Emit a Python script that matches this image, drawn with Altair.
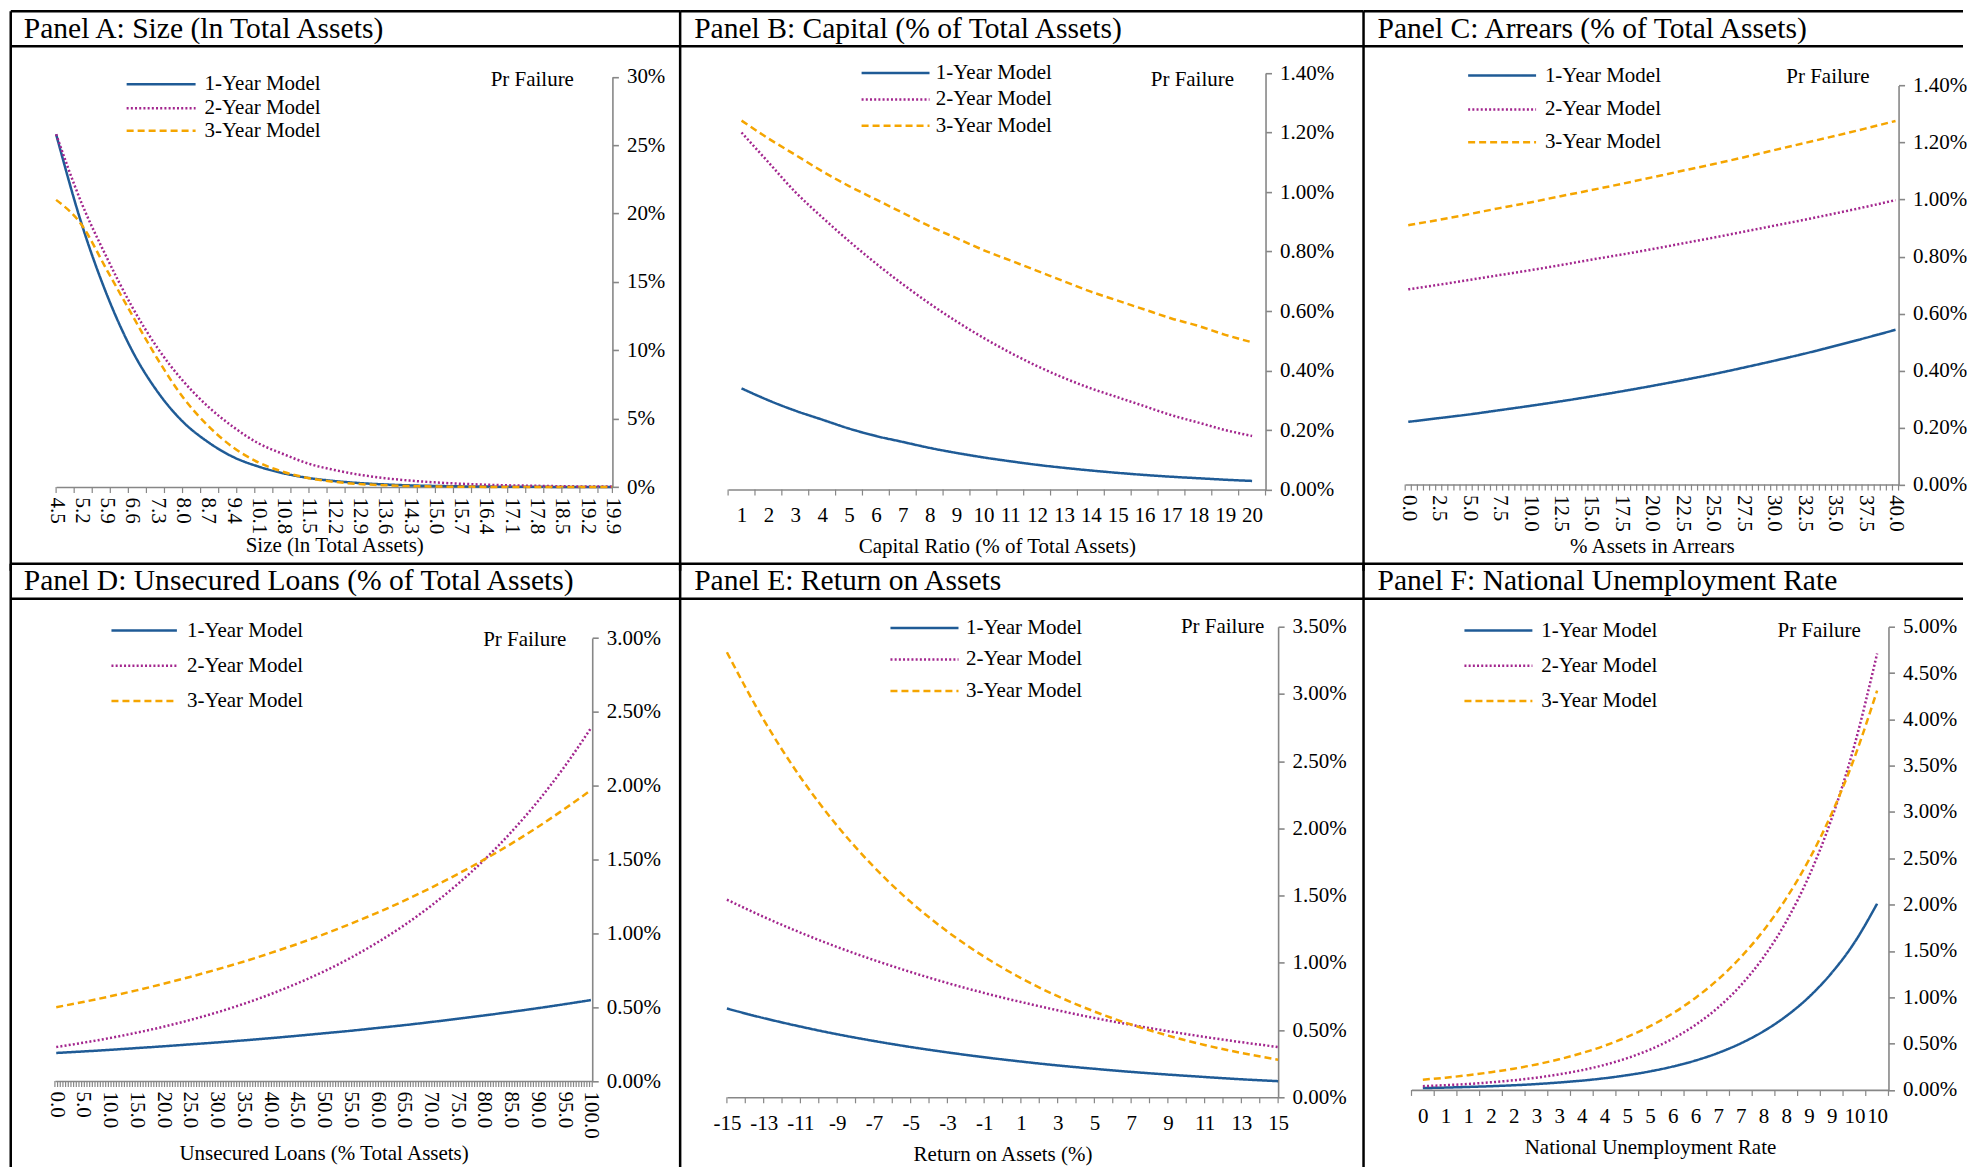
import altair as alt
import pandas as pd

FONT = "Liberation Serif"
GRAY = "#878787"
SERIES = ["1-Year Model", "2-Year Model", "3-Year Model"]
SERIES_COLORS = ["#1F5B96", "#A3268E", "#F5A500"]
SERIES_DASH = [[1, 0], [2, 2.2], [7, 4]]

# ---------------- Panel A: Size (ln Total Assets) ----------------
a_x = [4.5, 5.2, 5.9, 6.6, 7.3, 8.0, 8.7, 9.4, 10.1, 10.8, 11.5, 12.2, 12.9, 13.6,
       14.3, 15.0, 15.7, 16.4, 17.1, 17.8, 18.5, 19.2, 19.9]
a_y1 = [25.8, 19.3, 14.1, 10.0, 7.0, 4.8, 3.3, 2.2, 1.5, 1.0, 0.66, 0.44, 0.29, 0.19,
        0.12, 0.08, 0.05, 0.035, 0.02, 0.015, 0.01, 0.006, 0.004]
a_y2 = [25.8, 20.8, 16.8, 13.2, 10.2, 7.8, 5.9, 4.4, 3.2, 2.4, 1.7, 1.25, 0.9, 0.65,
        0.47, 0.34, 0.24, 0.17, 0.12, 0.09, 0.06, 0.04, 0.03]
a_y3 = [21.0, 19.2, 15.9, 12.6, 9.4, 6.6, 4.5, 2.9, 1.8, 1.1, 0.65, 0.38, 0.22, 0.13,
        0.07, 0.04, 0.02, 0.012, 0.007, 0.004, 0.002, 0.001, 0.001]
a_xlabel_vals = a_x
a_xlabels = ["4.5", "5.2", "5.9", "6.6", "7.3", "8.0", "8.7", "9.4", "10.1", "10.8",
             "11.5", "12.2", "12.9", "13.6", "14.3", "15.0", "15.7", "16.4", "17.1",
             "17.8", "18.5", "19.2", "19.9"]
a_xticks = [4.5, 5.0, 5.5, 6.0, 6.5, 7.0, 7.5, 8.0, 8.5, 9.0, 9.5, 10.0, 10.5, 11.0,
            11.5, 12.0, 12.5, 13.0, 13.5, 14.0, 14.5, 15.0, 15.5, 16.0, 16.5, 17.0,
            17.5, 18.0, 18.5, 19.0, 19.5, 19.9]
a_yvals = [0, 5, 10, 15, 20, 25, 30]
a_ylabels = ["0%", "5%", "10%", "15%", "20%", "25%", "30%"]

# ---------------- Panel B: Capital ----------------
b_x = list(range(1, 21))
b_y1 = [0.34, 0.30, 0.265, 0.235, 0.205, 0.18, 0.16, 0.14, 0.123, 0.108, 0.095, 0.083,
        0.073, 0.064, 0.056, 0.049, 0.043, 0.038, 0.033, 0.029]
b_y2 = [1.20, 1.10, 1.00, 0.915, 0.835, 0.76, 0.69, 0.625, 0.565, 0.51, 0.46, 0.415,
        0.375, 0.34, 0.31, 0.28, 0.25, 0.225, 0.20, 0.18]
b_y3 = [1.24, 1.18, 1.125, 1.07, 1.02, 0.975, 0.93, 0.885, 0.845, 0.805, 0.77, 0.735,
        0.70, 0.665, 0.635, 0.605, 0.575, 0.55, 0.52, 0.495]
b_xlabel_vals = b_x
b_xlabels = [str(v) for v in b_x]
b_xticks = [v - 0.5 for v in range(1, 22)]
b_yvals = [0, 0.2, 0.4, 0.6, 0.8, 1.0, 1.2, 1.4]
b_ylabels = ["0.00%", "0.20%", "0.40%", "0.60%", "0.80%", "1.00%", "1.20%", "1.40%"]

# ---------------- Panel C: Arrears ----------------
c_x = [0, 2.5, 5, 7.5, 10, 12.5, 15, 17.5, 20, 22.5, 25, 27.5, 30, 32.5, 35, 37.5, 40]
c_y1 = [0.22, 0.233, 0.246, 0.261, 0.276, 0.292, 0.309, 0.327, 0.346, 0.366, 0.387,
        0.410, 0.434, 0.459, 0.486, 0.514, 0.543]
c_y2 = [0.685, 0.701, 0.718, 0.735, 0.752, 0.770, 0.789, 0.807, 0.826, 0.846, 0.866,
        0.887, 0.908, 0.929, 0.951, 0.974, 0.998]
c_y3 = [0.91, 0.929, 0.949, 0.970, 0.990, 1.012, 1.033, 1.055, 1.078, 1.101, 1.124,
        1.148, 1.173, 1.198, 1.223, 1.249, 1.276]
c_xlabel_vals = c_x
c_xlabels = ["0.0", "2.5", "5.0", "7.5", "10.0", "12.5", "15.0", "17.5", "20.0", "22.5",
             "25.0", "27.5", "30.0", "32.5", "35.0", "37.5", "40.0"]
c_xticks = [-0.25 + 0.5 * k for k in range(82)]
c_yvals = b_yvals
c_ylabels = b_ylabels

# ---------------- Panel D: Unsecured loans ----------------
d_x = [0, 5, 10, 15, 20, 25, 30, 35, 40, 45, 50, 55, 60, 65, 70, 75, 80, 85, 90, 95, 100]
d_y1 = [0.19, 0.200, 0.211, 0.223, 0.235, 0.248, 0.261, 0.275, 0.290, 0.306, 0.323,
        0.340, 0.359, 0.378, 0.399, 0.421, 0.444, 0.468, 0.493, 0.520, 0.548]
d_y2 = [0.23, 0.259, 0.291, 0.327, 0.367, 0.413, 0.464, 0.522, 0.587, 0.660, 0.741,
        0.833, 0.937, 1.053, 1.184, 1.331, 1.496, 1.682, 1.891, 2.126, 2.39]
d_y3 = [0.50, 0.535, 0.573, 0.614, 0.658, 0.705, 0.755, 0.808, 0.866, 0.927, 0.993,
        1.064, 1.139, 1.220, 1.307, 1.400, 1.499, 1.605, 1.719, 1.841, 1.97]
d_xlabel_vals = d_x
d_xlabels = ["0.0", "5.0", "10.0", "15.0", "20.0", "25.0", "30.0", "35.0", "40.0", "45.0",
             "50.0", "55.0", "60.0", "65.0", "70.0", "75.0", "80.0", "85.0", "90.0",
             "95.0", "100.0"]
d_xticks = [-0.25 + 0.5 * k for k in range(202)]
d_yvals = [0, 0.5, 1.0, 1.5, 2.0, 2.5, 3.0]
d_ylabels = ["0.00%", "0.50%", "1.00%", "1.50%", "2.00%", "2.50%", "3.00%"]

# ---------------- Panel E: Return on assets ----------------
e_x = [-15, -13, -11, -9, -7, -5, -3, -1, 1, 3, 5, 7, 9, 11, 13, 15]
e_y1 = [0.66, 0.589, 0.526, 0.469, 0.419, 0.374, 0.334, 0.298, 0.266, 0.237, 0.212,
        0.189, 0.169, 0.151, 0.134, 0.12]
e_y2 = [1.47, 1.342, 1.225, 1.118, 1.021, 0.932, 0.850, 0.776, 0.709, 0.647, 0.590,
        0.539, 0.492, 0.449, 0.410, 0.374]
e_y3 = [3.31, 2.808, 2.381, 2.020, 1.713, 1.453, 1.233, 1.046, 0.887, 0.752, 0.638,
        0.541, 0.459, 0.389, 0.330, 0.28]
e_xlabel_vals = e_x
e_xlabels = [str(v) for v in e_x]
e_xticks = list(range(-15, 16))
e_yvals = [0, 0.5, 1.0, 1.5, 2.0, 2.5, 3.0, 3.5]
e_ylabels = ["0.00%", "0.50%", "1.00%", "1.50%", "2.00%", "2.50%", "3.00%", "3.50%"]

# ---------------- Panel F: National unemployment ----------------
f_x = [0, 0.5, 1, 1.5, 2, 2.5, 3, 3.5, 4, 4.5, 5, 5.5, 6, 6.5, 7, 7.5, 8, 8.5, 9, 9.5, 10]
f_y1 = [0.020, 0.025, 0.032, 0.040, 0.050, 0.063, 0.080, 0.100, 0.126, 0.159, 0.200,
        0.252, 0.317, 0.399, 0.503, 0.633, 0.797, 1.003, 1.263, 1.59, 2.01]
f_y2 = [0.040, 0.051, 0.064, 0.082, 0.104, 0.132, 0.168, 0.213, 0.270, 0.343, 0.435,
        0.552, 0.701, 0.889, 1.129, 1.433, 1.818, 2.308, 2.929, 3.718, 4.71]
f_y3 = [0.110, 0.132, 0.159, 0.191, 0.229, 0.275, 0.330, 0.397, 0.477, 0.573, 0.688,
        0.826, 0.993, 1.193, 1.433, 1.721, 2.068, 2.484, 2.984, 3.585, 4.31]
f_xlabel_vals = f_x
f_xlabels = ["0", "1", "1", "2", "2", "3", "3", "4", "4", "5", "5", "6", "6", "7", "7",
             "8", "8", "9", "9", "10", "10"]
f_xticks = [-0.25 + 0.5 * k for k in range(22)]
f_yvals = [0, 0.5, 1.0, 1.5, 2.0, 2.5, 3.0, 3.5, 4.0, 4.5, 5.0]
f_ylabels = ["0.00%", "0.50%", "1.00%", "1.50%", "2.00%", "2.50%", "3.00%", "3.50%",
             "4.00%", "4.50%", "5.00%"]

# ---------------- Layout (pixel geometry of each table cell) ----------------
PANELS = [
    dict(title="Panel A: Size (ln Total Assets)", tx=13, ty=18, W=670, H=553,
         x=a_x, ys=[a_y1, a_y2, a_y3], xdomain=[4.5, 19.9], xrange=[45.4, 602.2],
         ydomain=[0, 30], yrange=[476.2, 65.6], xoff=-76.8, yoff=-67.8,
         angle=90, lpad=10, xtitle="Size (ln Total Assets)", xty=59,
         ytx=-80.7, yty=68.1, leg=(116, 185, 194, [73.1, 97.1, 119.7]),
         xlv=a_xlabel_vals, xl=a_xlabels, xt=a_xticks, yv=a_yvals, yl=a_ylabels),
    dict(title="Panel B: Capital (% of Total Assets)", tx=14, ty=18, W=684, H=553,
         x=b_x, ys=[b_y1, b_y2, b_y3], xdomain=[0.5, 20.5], xrange=[48, 585.9],
         ydomain=[0, 1.4], yrange=[478.7, 61.8], xoff=-74.3, yoff=-98.1,
         angle=0, lpad=14.5, xtitle="Capital Ratio (% of Total Assets)", xty=56.7,
         ytx=-73.7, yty=68.1, leg=(181.6, 249.6, 255.9, [61.8, 88.2, 114.7]),
         xlv=b_xlabel_vals, xl=b_xlabels, xt=b_xticks, yv=b_yvals, yl=b_ylabels),
    dict(title="Panel C: Arrears (% of Total Assets)", tx=14, ty=18, W=600, H=553,
         x=c_x, ys=[c_y1, c_y2, c_y3], xdomain=[-0.25, 40.25], xrange=[41.7, 535.5],
         ydomain=[0, 1.4], yrange=[473.7, 74.4], xoff=-79.3, yoff=-64.5,
         angle=90, lpad=10, xtitle="% Assets in Arrears", xty=61.7,
         ytx=-71.2, yty=65.6, leg=(104.7, 172.7, 181.5, [64.3, 98.3, 131.1]),
         xlv=c_xlabel_vals, xl=c_xlabels, xt=c_xticks, yv=c_yvals, yl=c_ylabels),
    dict(title="Panel D: Unsecured Loans (% of Total Assets)", tx=13, ty=17.7, W=670, H=597,
         x=d_x, ys=[d_y1, d_y2, d_y3], xdomain=[-0.25, 100.25], xrange=[44.2, 582],
         ydomain=[0, 3], yrange=[517.7, 74.4], xoff=-79.3, yoff=-88,
         angle=90, lpad=10, xtitle="Unsecured Loans (% Total Assets)", xty=73,
         ytx=-68, yty=75.6, leg=(100.8, 166.3, 176.4, [66.8, 102.1, 137.3]),
         xlv=d_xlabel_vals, xl=d_xlabels, xt=d_xticks, yv=d_yvals, yl=d_ylabels),
    dict(title="Panel E: Return on Assets", tx=14, ty=17.7, W=684, H=597,
         x=e_x, ys=[e_y1, e_y2, e_y3], xdomain=[-15, 15], xrange=[46.8, 598.5],
         ydomain=[0, 3.5], yrange=[534, 63], xoff=-63, yoff=-85.5,
         angle=0, lpad=14.8, xtitle="Return on Assets (%)", xty=56.8,
         ytx=-56.1, yty=63, leg=(210.5, 278.6, 286.1, [64.3, 95.8, 127.3]),
         xlv=e_xlabel_vals, xl=e_xlabels, xt=e_xticks, yv=e_yvals, yl=e_ylabels),
    dict(title="Panel F: National Unemployment Rate", tx=14, ty=17.7, W=600, H=597,
         x=f_x, ys=[f_y1, f_y2, f_y3], xdomain=[-0.25, 10.25], xrange=[48, 525.4],
         ydomain=[0, 5], yrange=[526.6, 63], xoff=-70.4, yoff=-74.6,
         angle=0, lpad=16, xtitle="National Unemployment Rate", xty=58,
         ytx=-69.9, yty=66.8, leg=(101, 169, 177.8, [66.8, 102.1, 137.3]),
         xlv=f_xlabel_vals, xl=f_xlabels, xt=f_xticks, yv=f_yvals, yl=f_ylabels),
]

TITLE_ROW = 35
BORDER_W = 2.5
ONE = pd.DataFrame({"d": [0]})


def lookup_expr(vals, labels):
    v = ",".join(repr(float(x)) for x in vals)
    l = ",".join("'" + s + "'" for s in labels)
    return "[" + l + "][indexof([" + v + "], datum.value)]"


def build_panel(p):
    W, H = p["W"], p["H"]
    rows = []
    for name, ys in zip(SERIES, p["ys"]):
        for xv, yv in zip(p["x"], ys):
            rows.append({"x": xv, "v": yv, "series": name})
    df = pd.DataFrame(rows)

    xs = alt.Scale(domain=p["xdomain"], range=p["xrange"], nice=False, zero=False)
    ys_ = alt.Scale(domain=p["ydomain"], range=p["yrange"], nice=False, zero=False)
    cscale = alt.Scale(domain=SERIES, range=SERIES_COLORS)
    dscale = alt.Scale(domain=SERIES, range=SERIES_DASH)

    xaxis = alt.Axis(
        values=p["xlv"], labelExpr=lookup_expr(p["xlv"], p["xl"]),
        ticks=False, tickSize=0, grid=False, labelAngle=p["angle"],
        labelPadding=p["lpad"], labelFlush=False, labelOverlap=False,
        title=p["xtitle"], titleY=p["xty"], titleBaseline="middle",
        offset=p["xoff"], domainColor=GRAY, domainWidth=1.6,
    )
    yaxis = alt.Axis(
        orient="right", values=p["yv"], labelExpr=lookup_expr(p["yv"], p["yl"]),
        tickSize=6, tickColor=GRAY, tickWidth=1.6, grid=False, labelPadding=8,
        labelFlush=False, labelOverlap=False, title="Pr Failure", titleAngle=0,
        titleX=p["ytx"], titleY=p["yty"], titleAlign="center", titleBaseline="middle",
        offset=p["yoff"], domainColor=GRAY, domainWidth=1.6,
    )

    layers = []
    # table borders
    layers.append(alt.Chart(ONE).mark_rule(color="black", strokeWidth=BORDER_W).encode(
        x=alt.value(0), x2=alt.value(W), y=alt.value(0)))
    layers.append(alt.Chart(ONE).mark_rule(color="black", strokeWidth=BORDER_W).encode(
        x=alt.value(0), x2=alt.value(W), y=alt.value(TITLE_ROW)))
    layers.append(alt.Chart(ONE).mark_rule(color="black", strokeWidth=BORDER_W).encode(
        x=alt.value(0), y=alt.value(0), y2=alt.value(H + 7)))
    # panel title
    layers.append(alt.Chart(ONE).mark_text(
        align="left", baseline="middle", font=FONT, fontSize=29.6, color="black").encode(
        x=alt.value(p["tx"]), y=alt.value(p["ty"]), text=alt.value(p["title"])))
    # series lines (carry both axes)
    layers.append(alt.Chart(df).mark_line(strokeWidth=2.5, interpolate="monotone").encode(
        x=alt.X("x:Q", scale=xs, axis=xaxis),
        y=alt.Y("v:Q", scale=ys_, axis=yaxis),
        color=alt.Color("series:N", scale=cscale, legend=None),
        strokeDash=alt.StrokeDash("series:N", scale=dscale, legend=None),
    ))
    # category tick marks below the x axis line
    tb = p["yrange"][0]
    layers.append(alt.Chart(pd.DataFrame({"x": p["xt"]})).mark_rule(
        color=GRAY, strokeWidth=1.2).encode(
        x=alt.X("x:Q", scale=xs, axis=xaxis),
        y=alt.value(tb), y2=alt.value(tb + 6)))
    # in-plot legend
    x0, x1, tx, rys = p["leg"]
    for name, col, dash, ry in zip(SERIES, SERIES_COLORS, SERIES_DASH, rys):
        layers.append(alt.Chart(ONE).mark_rule(
            color=col, strokeWidth=2.5, strokeDash=dash).encode(
            x=alt.value(x0), x2=alt.value(x1), y=alt.value(ry)))
        layers.append(alt.Chart(ONE).mark_text(
            align="left", baseline="middle", font=FONT, fontSize=21, color="black").encode(
            x=alt.value(tx), y=alt.value(ry), text=alt.value(name)))
    return alt.layer(*layers).properties(width=W, height=H)


panels = [build_panel(p) for p in PANELS]

chart = alt.concat(*panels, columns=3, spacing=0, bounds="flush").properties(
    padding={"left": 0.75, "top": 0.75, "right": 0, "bottom": 0},
    background="white",
).configure_view(stroke=None).configure_axis(
    labelFont=FONT, titleFont=FONT, labelFontSize=21, titleFontSize=21,
    labelColor="black", titleColor="black", titleFontWeight="normal",
)

chart.save("out.html", embed_options={"renderer": "svg", "actions": False})
